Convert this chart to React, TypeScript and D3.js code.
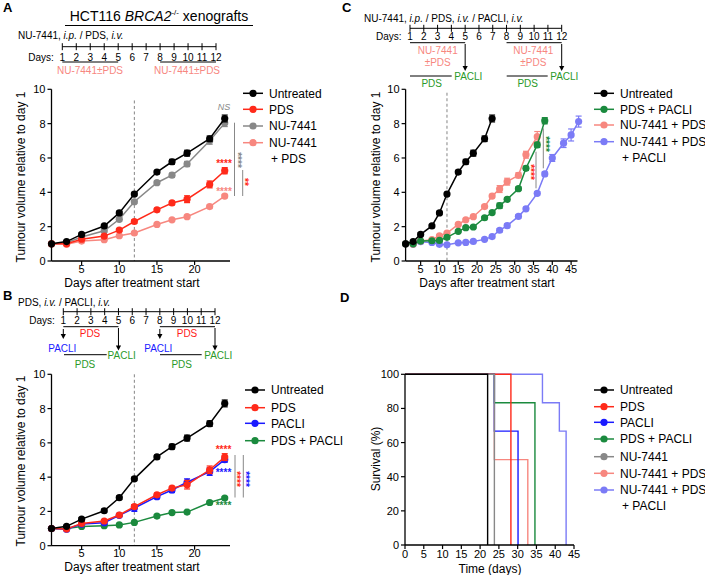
import * as d3 from "d3";

const FONT = "'Liberation Sans', Arial, Helvetica, sans-serif";

const BLACK = "#000000";
const RED = "#ff2a1a";
const GREY = "#888888";
const SALMON = "#f7877f";
const BLUE = "#1a1aff";
const GREEN = "#1b8a3e";
const LILAC = "#7b7bf6";

// ---- growth data (tumour volume relative to day 1) ----
const daysShort = [1, 3, 5, 8, 10, 12, 15, 17, 19, 22, 24];
const daysGreenC = [1, 3, 5, 8, 10, 12, 15, 17, 19, 22, 24, 26, 28, 31, 33, 36, 38];
const daysSalmonC = [1, 3, 5, 8, 10, 12, 15, 17, 19, 22, 24, 26, 28, 31, 33, 36];
const daysLilacC = [1, 3, 5, 8, 10, 12, 15, 17, 19, 22, 24, 26, 28, 31, 33, 36, 38, 40, 43, 45, 47];

const untreatedVals = [1.0, 1.13, 1.55, 2.04, 2.8, 3.9, 5.18, 5.78, 6.28, 7.12, 8.3];
const untreatedErr = [0, 0.05, 0.08, 0.08, 0.1, 0.1, 0.1, 0.14, 0.17, 0.16, 0.2];
const pdsValsA = [1.0, 1.0, 1.27, 1.45, 1.8, 2.3, 2.98, 3.38, 3.6, 4.46, 5.26];
const pdsErrA = [0, 0.04, 0.06, 0.08, 0.08, 0.1, 0.1, 0.1, 0.2, 0.2, 0.18];
const nuVals = [1.0, 1.06, 1.4, 1.76, 2.43, 3.45, 4.56, 5.0, 5.65, 7.0, 8.03];
const nuErr = [0, 0.04, 0.06, 0.08, 0.1, 0.1, 0.1, 0.12, 0.15, 0.2, 0.2];
const nuPdsVals = [1.0, 0.98, 1.16, 1.24, 1.47, 1.63, 2.13, 2.4, 2.58, 3.17, 3.78];
const nuPdsErr = [0, 0.03, 0.04, 0.05, 0.05, 0.06, 0.06, 0.06, 0.07, 0.08, 0.1];

const pdsValsB = [1.0, 0.97, 1.3, 1.44, 1.79, 2.28, 2.97, 3.36, 3.56, 4.43, 5.17];
const pdsErrB = [0, 0.04, 0.06, 0.08, 0.08, 0.1, 0.1, 0.1, 0.25, 0.22, 0.2];
const pacliVals = [1.0, 0.96, 1.26, 1.34, 1.77, 2.2, 2.86, 3.25, 3.7, 4.32, 5.02];
const pacliErr = [0, 0.04, 0.06, 0.08, 0.08, 0.2, 0.12, 0.15, 0.2, 0.22, 0.15];
const pdsPacliValsB = [1.0, 1.0, 1.12, 1.17, 1.21, 1.36, 1.73, 1.93, 1.96, 2.52, 2.78];
const pdsPacliErrB = [0, 0.03, 0.04, 0.04, 0.05, 0.05, 0.06, 0.06, 0.06, 0.07, 0.08];

const pdsPacliValsC = [1.0, 1.0, 1.16, 1.18, 1.2, 1.38, 1.73, 1.94, 1.98, 2.52, 2.82, 3.22, 3.59, 4.21, 5.4, 6.76, 8.17];
const pdsPacliErrC = [0, 0.03, 0.04, 0.04, 0.05, 0.05, 0.06, 0.06, 0.06, 0.07, 0.08, 0.15, 0.1, 0.1, 0.12, 0.15, 0.18];
const nuPdsValsC = [1.0, 0.98, 1.16, 1.24, 1.47, 1.63, 2.13, 2.4, 2.58, 3.17, 3.78, 4.19, 4.62, 4.99, 6.19, 7.24];
const nuPdsErrC = [0, 0.03, 0.04, 0.05, 0.05, 0.06, 0.06, 0.06, 0.07, 0.08, 0.1, 0.2, 0.2, 0.15, 0.2, 0.3];
const triVals = [1.0, 0.97, 1.12, 1.08, 0.97, 0.94, 1.06, 1.08, 1.14, 1.26, 1.42, 1.79, 2.06, 2.6, 3.04, 3.94, 5.07, 6.0, 6.86, 7.34, 8.12];
const triErr = [0, 0.03, 0.04, 0.04, 0.05, 0.05, 0.05, 0.05, 0.06, 0.06, 0.08, 0.1, 0.1, 0.1, 0.1, 0.1, 0.12, 0.2, 0.25, 0.35, 0.32];

// ---- survival data (Kaplan-Meier steps) ----
const survNames = ["Untreated", "PDS", "PACLI", "PDS + PACLI", "NU-7441", "NU-7441 + PDS", "NU-7441 + PDS\n+ PACLI"];
const survColors = [BLACK, RED, BLUE, GREEN, GREY, SALMON, LILAC];
const survTimes = [
  [0, 22],
  [0, 28.2],
  [0, 23.8, 30.1],
  [0, 23.8, 34.6],
  [0, 23.8],
  [0, 23.8, 32.7],
  [0, 36.6, 41.1, 42.9],
];
const survValues = [
  [100, 0],
  [100, 0],
  [100, 66.7, 0],
  [100, 83.3, 0],
  [100, 0],
  [100, 50, 0],
  [100, 83.3, 66.7, 0],
];
const survDrawOrder = [6, 5, 3, 2, 1, 4, 0];

type Series = { name: string; color: string; days: number[]; values: number[]; errors: number[] };

const seriesA: Series[] = [
  { name: "Untreated", color: BLACK, days: daysShort, values: untreatedVals, errors: untreatedErr },
  { name: "PDS", color: RED, days: daysShort, values: pdsValsA, errors: pdsErrA },
  { name: "NU-7441", color: GREY, days: daysShort, values: nuVals, errors: nuErr },
  { name: "NU-7441\n+ PDS", color: SALMON, days: daysShort, values: nuPdsVals, errors: nuPdsErr },
];
const seriesB: Series[] = [
  { name: "Untreated", color: BLACK, days: daysShort, values: untreatedVals, errors: untreatedErr },
  { name: "PDS", color: RED, days: daysShort, values: pdsValsB, errors: pdsErrB },
  { name: "PACLI", color: BLUE, days: daysShort, values: pacliVals, errors: pacliErr },
  { name: "PDS + PACLI", color: GREEN, days: daysShort, values: pdsPacliValsB, errors: pdsPacliErrB },
];
const seriesC: Series[] = [
  { name: "Untreated", color: BLACK, days: daysShort, values: untreatedVals, errors: untreatedErr },
  { name: "PDS + PACLI", color: GREEN, days: daysGreenC, values: pdsPacliValsC, errors: pdsPacliErrC },
  { name: "NU-7441 + PDS", color: SALMON, days: daysSalmonC, values: nuPdsValsC, errors: nuPdsErrC },
  { name: "NU-7441 + PDS\n+ PACLI", color: LILAC, days: daysLilacC, values: triVals, errors: triErr },
];

const yTicksGrowth = [0, 2, 4, 6, 8, 10];
const xTicksAB = [5, 10, 15, 20];
const xTicksC = [5, 10, 15, 20, 25, 30, 35, 40, 45];
const xTicksD = [0, 5, 10, 15, 20, 25, 30, 35, 40, 45];
const yTicksD = [0, 20, 40, 60, 80, 100];
const timelineDays = d3.range(1, 13);

type Scale = d3.ScaleLinear<number, number>;

function Axes({ x, y, xTicks, yTicks, labelDy = 11.5 }: { x: Scale; y: Scale; xTicks: number[]; yTicks: number[]; labelDy?: number }) {
  const [xa, xb] = x.range();
  const [ya, yb] = y.range();
  return (
    <g fontFamily={FONT} fontSize={11}>
      <line x1={xa} x2={xa} y1={ya} y2={yb} stroke="#000" strokeWidth={1.3} />
      <line x1={xa} x2={xb} y1={ya} y2={ya} stroke="#000" strokeWidth={1.3} />
      {yTicks.map((t) => (
        <g key={"y" + t}>
          <line x1={xa - 4} x2={xa} y1={y(t)} y2={y(t)} stroke="#000" strokeWidth={1.2} />
          <text x={xa - 6} y={y(t) + 4} textAnchor="end">
            {t}
          </text>
        </g>
      ))}
      {xTicks.map((t) => (
        <g key={"x" + t}>
          <line x1={x(t)} x2={x(t)} y1={ya} y2={ya + 4} stroke="#000" strokeWidth={1.2} />
          <text x={x(t)} y={ya + labelDy} textAnchor="middle">
            {t}
          </text>
        </g>
      ))}
    </g>
  );
}

function GrowthSeries({ x, y, s }: { x: Scale; y: Scale; s: Series }) {
  const pts: [number, number][] = s.days.map((d, i) => [d, s.values[i]]);
  const path = d3.line<[number, number]>().x((d) => x(d[0])).y((d) => y(d[1]))(pts) || "";
  return (
    <g>
      <path d={path} fill="none" stroke={s.color} strokeWidth={1.5} />
      {s.days.map((d, i) => {
        const e = s.errors[i];
        if (!e) return null;
        const cx = x(d);
        return (
          <g key={"e" + i} stroke={s.color} strokeWidth={1.2}>
            <line x1={cx} x2={cx} y1={y(s.values[i] + e)} y2={y(s.values[i] - e)} />
            <line x1={cx - 3} x2={cx + 3} y1={y(s.values[i] + e)} y2={y(s.values[i] + e)} />
            <line x1={cx - 3} x2={cx + 3} y1={y(s.values[i] - e)} y2={y(s.values[i] - e)} />
          </g>
        );
      })}
      {s.days.map((d, i) => (
        <circle key={"c" + i} cx={x(d)} cy={y(s.values[i])} r={3.6} fill={s.color} />
      ))}
    </g>
  );
}

function Legend({ x, rows, items }: { x: number; rows: number[]; items: { name: string; color: string }[] }) {
  return (
    <g fontFamily={FONT} fontSize={12}>
      {items.map((it, i) => {
        const lines = it.name.split("\n");
        return (
          <g key={i}>
            <line x1={x} x2={x + 20} y1={rows[i]} y2={rows[i]} stroke={it.color} strokeWidth={1.5} />
            <circle cx={x + 10} cy={rows[i]} r={3.6} fill={it.color} />
            {lines.map((l, j) => (
              <text key={j} x={x + 26 + (j > 0 ? 2 : 0)} y={rows[i] + 4.3 + j * 15.5}>
                {l}
              </text>
            ))}
          </g>
        );
      })}
    </g>
  );
}

function YTitle({ x, y, text }: { x: number; y: number; text: string }) {
  return (
    <text transform={`translate(${x},${y}) rotate(-90)`} textAnchor="middle" fontFamily={FONT} fontSize={12}>
      {text}
    </text>
  );
}

function Stars({ x, y, text, color, rotate, size = 10 }: { x: number; y: number; text: string; color: string; rotate?: boolean; size?: number }) {
  if (rotate) {
    return (
      <text transform={`translate(${x},${y}) rotate(90)`} y={size * 0.55} textAnchor="middle" fill={color} fontFamily={FONT} fontSize={size} fontWeight="bold">
        {text}
      </text>
    );
  }
  return (
    <text x={x} y={y + size * 0.55} textAnchor="middle" fill={color} fontFamily={FONT} fontSize={size} fontWeight="bold">
      {text}
    </text>
  );
}

function Timeline({ day, y, textY }: { day: Scale; y: number; textY: number }) {
  return (
    <g fontFamily={FONT} fontSize={10}>
      <line x1={day(1)} x2={day(12)} y1={y} y2={y} stroke="#000" strokeWidth={1} />
      {timelineDays.map((d) => (
        <g key={d}>
          <line x1={day(d)} x2={day(d)} y1={y - 3.5} y2={y + 3.5} stroke="#000" strokeWidth={1} />
          <text x={day(d)} y={textY} textAnchor="middle">
            {d}
          </text>
        </g>
      ))}
      <text x={day(1) - 34} y={textY}>
        Days:
      </text>
    </g>
  );
}

function Arrow({ x, y1, y2 }: { x: number; y1: number; y2: number }) {
  return (
    <g>
      <line x1={x} x2={x} y1={y1} y2={y2 - 4} stroke="#000" strokeWidth={1} />
      <path d={`M${x - 2.6},${y2 - 5} L${x + 2.6},${y2 - 5} L${x},${y2} Z`} fill="#000" />
    </g>
  );
}

export default function App() {
  const xA = d3.scaleLinear().domain([1, 24.7]).range([51.5, 230]);
  const yA = d3.scaleLinear().domain([0, 10]).range([261, 89.3]);
  const yB = d3.scaleLinear().domain([0, 10]).range([545.7, 374.3]);
  const xC = d3.scaleLinear().domain([1, 46.7]).range([405.6, 577.5]);
  const yC = d3.scaleLinear().domain([0, 10]).range([261, 89.3]);
  const xD = d3.scaleLinear().domain([0, 45]).range([405, 574]);
  const yD = d3.scaleLinear().domain([0, 100]).range([545, 374.3]);

  const dayA = d3.scaleLinear().domain([1, 12]).range([62.3, 216]);
  const dayB = d3.scaleLinear().domain([1, 12]).range([63.3, 215]);
  const dayC = d3.scaleLinear().domain([1, 12]).range([410, 561.7]);

  const stepLine = d3
    .line<[number, number]>()
    .x((d) => xD(d[0]))
    .y((d) => yD(d[1]))
    .curve(d3.curveStepAfter);

  return (
    <div style={{ position: "absolute", left: 0, top: 0 }}>
      <svg width={705} height={575} style={{ display: "block", background: "#fff" }}>
        {/* panel letters */}
        <g fontFamily={FONT} fontSize={13} fontWeight="bold">
          <text x={3} y={11.5}>A</text>
          <text x={3} y={300}>B</text>
          <text x={342} y={11.5}>C</text>
          <text x={340} y={301.5}>D</text>
        </g>

        {/* ===== Panel A header ===== */}
        <text x={159} y={21} textAnchor="middle" fontFamily={FONT} fontSize={14}>
          HCT116 <tspan fontStyle="italic">BRCA2</tspan>
          <tspan fontSize={8} dy={-6}>-/-</tspan>
          <tspan dy={6}> xenografts</tspan>
        </text>
        <line x1={65} x2={253} y1={25.5} y2={25.5} stroke="#000" strokeWidth={1} />
        <text x={18} y={39} fontFamily={FONT} fontSize={10}>
          NU-7441, <tspan fontStyle="italic">i.p.</tspan> / PDS, <tspan fontStyle="italic">i.v.</tspan>
        </text>
        <Timeline day={dayA} y={46.7} textY={61} />
        <line x1={dayA(1)} x2={dayA(5)} y1={62} y2={62} stroke="#000" strokeWidth={1} />
        <line x1={dayA(8)} x2={dayA(12)} y1={62} y2={62} stroke="#000" strokeWidth={1} />
        <g fontFamily={FONT} fontSize={10} fill={SALMON} textAnchor="middle">
          <text x={90} y={73.5}>NU-7441±PDS</text>
          <text x={187} y={73.5}>NU-7441±PDS</text>
        </g>

        {/* ===== Panel A plot ===== */}
        <line x1={xA(12)} x2={xA(12)} y1={yA(9.35)} y2={yA(0)} stroke="#777" strokeWidth={0.9} strokeDasharray="3,2.5" />
        {[...seriesA].reverse().map((s) => (
          <GrowthSeries key={s.name} x={xA} y={yA} s={s} />
        ))}
        <Axes x={xA} y={yA} xTicks={xTicksAB} yTicks={yTicksGrowth} />
        <YTitle x={25} y={177} text="Tumour volume relative to day 1" />
        <text x={132} y={286.5} textAnchor="middle" fontFamily={FONT} fontSize={12}>
          Days after treatment start
        </text>
        <Legend x={243} rows={[93.3, 109.3, 126, 142.7]} items={seriesA} />
        <text x={224} y={110} textAnchor="middle" fill={GREY} fontFamily={FONT} fontSize={9} fontStyle="italic">
          NS
        </text>
        <Stars x={224} y={161.7} text="****" color={RED} />
        <Stars x={224} y={189.3} text="****" color={SALMON} />
        <line x1={234.5} x2={234.5} y1={122.7} y2={196} stroke={GREY} strokeWidth={1} />
        <Stars x={239} y={160} text="****" color={GREY} rotate />
        <line x1={242.7} x2={242.7} y1={170} y2={196} stroke={GREY} strokeWidth={1} />
        <Stars x={246.7} y={182} text="**" color={RED} rotate />

        {/* ===== Panel B header ===== */}
        <text x={18} y={305.5} fontFamily={FONT} fontSize={10}>
          PDS, <tspan fontStyle="italic">i.v.</tspan> / PACLI, <tspan fontStyle="italic">i.v.</tspan>
        </text>
        <Timeline day={dayB} y={311.7} textY={324} />
        <line x1={dayB(1)} x2={dayB(5)} y1={326.7} y2={326.7} stroke="#000" strokeWidth={1} />
        <line x1={dayB(8)} x2={dayB(12)} y1={326.7} y2={326.7} stroke="#000" strokeWidth={1} />
        <g fontFamily={FONT} fontSize={10} textAnchor="middle">
          <text x={90} y={337} fill="#ff1a1a">PDS</text>
          <text x={187} y={337} fill="#ff1a1a">PDS</text>
          <text x={62.3} y={352} fill={BLUE}>PACLI</text>
          <text x={158.3} y={352} fill={BLUE}>PACLI</text>
          <text x={121.7} y={358.5} fill="#2a9a2a">PACLI</text>
          <text x={218.3} y={358.5} fill="#2a9a2a">PACLI</text>
          <text x={85} y={368} fill="#2a9a2a">PDS</text>
          <text x={181.7} y={368} fill="#2a9a2a">PDS</text>
        </g>
        <Arrow x={dayB(1)} y1={329} y2={339} />
        <Arrow x={dayB(8)} y1={329} y2={339} />
        <Arrow x={dayB(5)} y1={328} y2={350.5} />
        <Arrow x={dayB(12)} y1={328} y2={350.5} />
        <line x1={64} x2={106.7} y1={354.7} y2={354.7} stroke="#000" strokeWidth={1} />
        <line x1={160} x2={201.7} y1={354.7} y2={354.7} stroke="#000" strokeWidth={1} />

        {/* ===== Panel B plot ===== */}
        <line x1={xA(12)} x2={xA(12)} y1={yB(10)} y2={yB(0)} stroke="#777" strokeWidth={0.9} strokeDasharray="3,2.5" />
        {[...seriesB].reverse().map((s) => (
          <GrowthSeries key={s.name} x={xA} y={yB} s={s} />
        ))}
        <Axes x={xA} y={yB} xTicks={xTicksAB} yTicks={yTicksGrowth} />
        <YTitle x={25} y={461} text="Tumour volume relative to day 1" />
        <text x={132} y={571} textAnchor="middle" fontFamily={FONT} fontSize={12}>
          Days after treatment start
        </text>
        <Legend x={245} rows={[390, 407.7, 423.3, 440.7]} items={seriesB} />
        <Stars x={223.5} y={447.3} text="****" color={RED} />
        <Stars x={223.5} y={470} text="****" color={BLUE} />
        <Stars x={223.5} y={503.3} text="****" color={GREEN} />
        <line x1={235} x2={235} y1={455} y2={497.5} stroke={GREY} strokeWidth={1} />
        <line x1={243.3} x2={243.3} y1={455} y2={497.5} stroke={GREY} strokeWidth={1} />
        <Stars x={238.8} y={479} text="****" color={RED} rotate />
        <Stars x={247.3} y={479} text="****" color={BLUE} rotate />

        {/* ===== Panel C header ===== */}
        <text x={364} y={22} fontFamily={FONT} fontSize={10}>
          NU-7441, <tspan fontStyle="italic">i.p.</tspan> / PDS, <tspan fontStyle="italic">i.v.</tspan> / PACLI,{" "}
          <tspan fontStyle="italic">i.v.</tspan>
        </text>
        <Timeline day={dayC} y={28.3} textY={39.7} />
        <line x1={dayC(1)} x2={dayC(5)} y1={42.7} y2={42.7} stroke="#000" strokeWidth={1} />
        <line x1={dayC(8)} x2={dayC(12)} y1={42.7} y2={42.7} stroke="#000" strokeWidth={1} />
        <g fontFamily={FONT} fontSize={10} textAnchor="middle">
          <text x={437.7} y={53.7} fill={SALMON}>NU-7441</text>
          <text x={437.7} y={66} fill={SALMON}>±PDS</text>
          <text x={533.3} y={53.7} fill={SALMON}>NU-7441</text>
          <text x={533.3} y={66} fill={SALMON}>±PDS</text>
          <text x={468.3} y={79.7} fill="#2a9a2a">PACLI</text>
          <text x={564.3} y={79.7} fill="#2a9a2a">PACLI</text>
          <text x={431.7} y={86.5} fill="#2a9a2a">PDS</text>
          <text x={527.7} y={86.5} fill="#2a9a2a">PDS</text>
        </g>
        <Arrow x={dayC(5)} y1={44} y2={71} />
        <Arrow x={dayC(12)} y1={44} y2={71} />
        <line x1={410} x2={451.7} y1={76} y2={76} stroke="#000" strokeWidth={1} />
        <line x1={506.7} x2={547.7} y1={76} y2={76} stroke="#000" strokeWidth={1} />

        {/* ===== Panel C plot ===== */}
        <line x1={xC(12)} x2={xC(12)} y1={yC(9.8)} y2={yC(0)} stroke="#777" strokeWidth={0.9} strokeDasharray="3,2.5" />
        {[...seriesC].reverse().map((s) => (
          <GrowthSeries key={s.name} x={xC} y={yC} s={s} />
        ))}
        <Axes x={xC} y={yC} xTicks={xTicksC} yTicks={yTicksGrowth} />
        <YTitle x={380} y={177} text="Tumour volume relative to day 1" />
        <text x={487} y={286.5} textAnchor="middle" fontFamily={FONT} fontSize={12}>
          Days after treatment start
        </text>
        <Legend x={594} rows={[93.3, 109.3, 125, 141.7]} items={seriesC} />
        <line x1={536} x2={536} y1={151.7} y2={188.3} stroke={GREY} strokeWidth={1} />
        <Stars x={532.5} y={172} text="****" color={RED} rotate />
        <line x1={543.3} x2={543.3} y1={128.3} y2={168.3} stroke={GREY} strokeWidth={1} />
        <Stars x={547.5} y={144} text="****" color={GREEN} rotate />

        {/* ===== Panel D ===== */}
        {survDrawOrder.map((i) => {
          const pts: [number, number][] = survTimes[i].map((t, j) => [t, survValues[i][j]]);
          return <path key={i} d={stepLine(pts) || ""} fill="none" stroke={survColors[i]} strokeWidth={1.4} />;
        })}
        <Axes x={xD} y={yD} xTicks={xTicksD} yTicks={yTicksD} labelDy={13} />
        <YTitle x={380} y={459} text="Survival (%)" />
        <text x={490} y={572.5} textAnchor="middle" fontFamily={FONT} fontSize={12}>
          Time (days)
        </text>
        <Legend
          x={594}
          rows={[390, 406.7, 422.3, 439, 456.7, 473.3, 490]}
          items={survNames.map((n, i) => ({ name: n, color: survColors[i] }))}
        />
      </svg>
    </div>
  );
}
